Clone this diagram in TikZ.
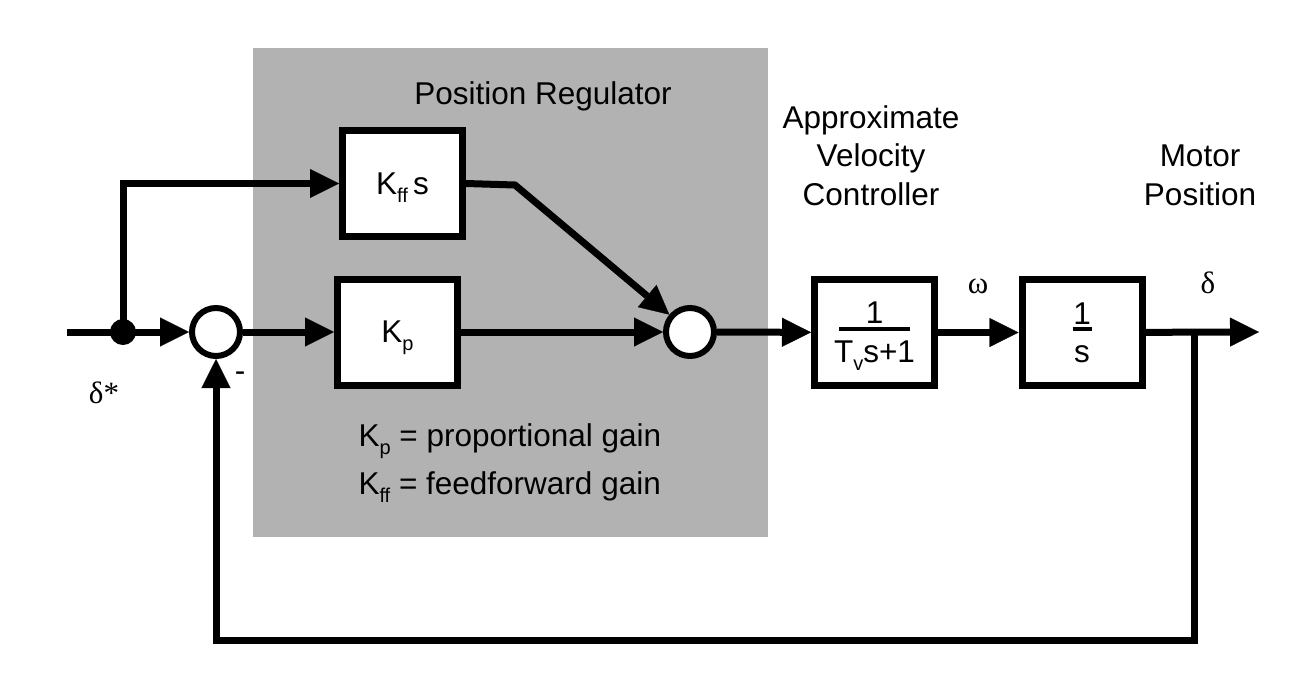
\documentclass[tikz,border=0pt]{standalone}
\usepackage{fontspec}
\setmainfont{Liberation Sans}
\newfontfamily\grkfont{Liberation Serif}
\usetikzlibrary{arrows.meta}
\definecolor{regbg}{RGB}{178,178,178}
\newcommand\subs[1]{\raisebox{-8pt}[0pt][0pt]{\fontsize{20}{20}\selectfont #1}}
\newcommand\frc[4]{\vbox{\offinterlineskip\halign{\hfil##\hfil\cr #1\cr\noalign{\kern3pt}\vrule width #3 height 4pt depth 0pt\cr\noalign{\kern#4}#2\cr}}}
\tikzset{
  blk/.style={draw, line width=7pt, fill=white, minimum width=120pt, minimum height=106pt, inner sep=0pt, font=\fontsize{31.5}{38}\selectfont},
  sumc/.style={circle, draw, line width=6pt, fill=white, minimum size=48pt, inner sep=0pt},
  conn/.style={line width=7pt, line join=miter, -{Triangle[length=29pt,width=29pt,line width=0.3pt]}},
  lbl/.style={font=\fontsize{31.5}{38.5}\selectfont},
  grk/.style={font=\grkfont\fontsize{31}{38}\selectfont},
}
\begin{document}
\begin{tikzpicture}[x=1pt,y=-1pt]
\useasboundingbox (0,0) rectangle (1316,688);
\fill[white] (0,0) rectangle (1316,688);
% regulator background
\fill[regbg] (253,48) rectangle (768,537);
\node[lbl, anchor=base] (title) at (543,104) {Position Regulator};
\node[lbl, anchor=base west] (lg1) at (355,446) {K\subs{p} = proportional gain};
\node[lbl, anchor=base west] (lg2) at (355,494) {K\subs{ff} = feedforward gain};

% blocks
\node[sumc] (sum1) at (216,332) {};
\node[blk] (kff) at (402.5,183.5) {K\subs{ff}\,s};
\node[blk] (kp) at (397.5,332) {K\subs{p}};
\node[sumc] (sum2) at (690,332) {};
\node[blk] (vel) at (874.5,332.5) {\frc{1}{T\subs{v}s+1}{71pt}{10pt}};
\node[blk] (int) at (1082,332.5) {\frc{1}{s}{19pt}{14pt}};

% labels
\node[lbl, align=center, anchor=base] (avc) at (871,205) {Approximate\\Velocity\\Controller};
\node[lbl, align=center, anchor=base] (mpos) at (1200,205) {Motor\\Position};
\node[grk] (dstar) at (104,393) {δ*};
\node[grk] (omega) at (978,286) {ω};
\node[grk] (delta) at (1208,283) {δ};
\node[lbl, anchor=base] (minus) at (240,381) {-};

% coordinates
\coordinate (in) at (67,332);
\coordinate (bend) at (515,185);
\coordinate (fb) at (1194,332);
\coordinate (fbd) at (1194,640);
\coordinate (out) at (1259,332);

% connectors
\draw[conn] (in) -- (sum1);
\node[circle, fill=black, minimum size=26pt, inner sep=0pt] (dot) at (123,332) {};
\draw[conn] (dot.center) |- (kff.west);
\draw[conn] (sum1) -- (kp);
\draw[conn] (kff.east) -- (bend) -- (sum2);
\draw[conn] (kp) -- (sum2);
\draw[conn] (sum2) -- (vel);
\draw[conn] (vel) -- (int);
\draw[conn] (int) -- (out);
\draw[conn] (fb) -- (fbd) -| (sum1.south);
\end{tikzpicture}
\end{document}
